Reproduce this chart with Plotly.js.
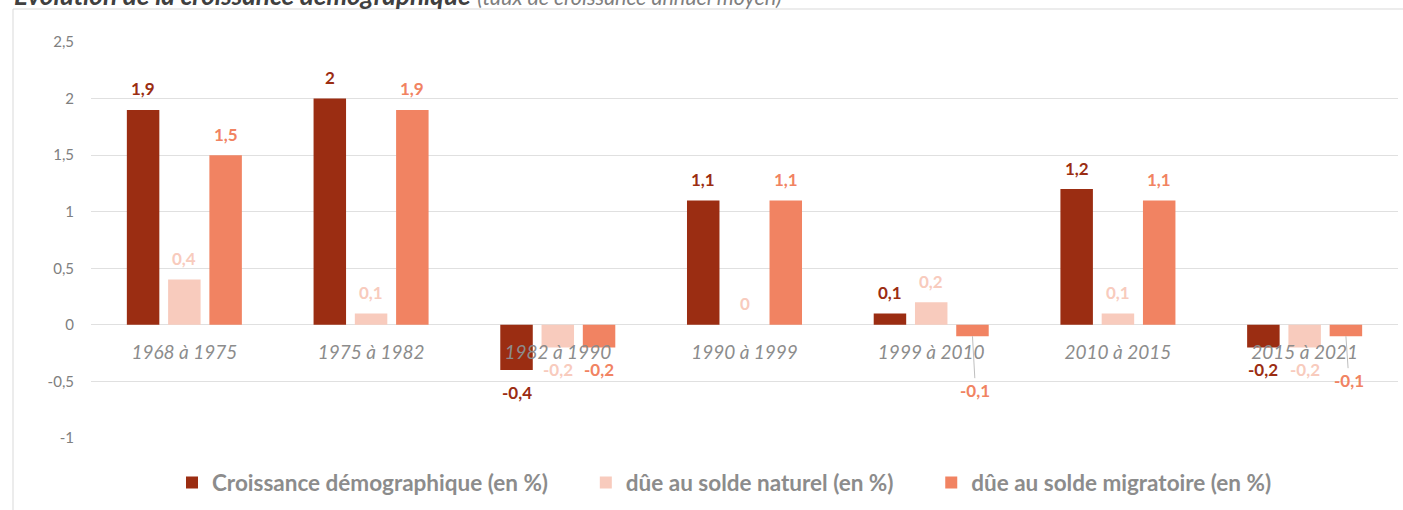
<!DOCTYPE html>
<html>
<head>
<meta charset="utf-8">
<script src="https://cdn.plot.ly/plotly-3.0.1.min.js"></script>
<style>html,body{margin:0;padding:0;background:#fff;overflow:hidden;}#chart{width:1403px;height:510px;}</style>
</head>
<body>
<div id="chart"></div>
<script>
// ---- data ----
const categories = ['1968 à 1975','1975 à 1982','1982 à 1990','1990 à 1999','1999 à 2010','2010 à 2015','2015 à 2021'];
const croissance = [1.9, 2, -0.4, 1.1, 0.1, 1.2, -0.2];
const soldeNaturel = [0.4, 0.1, -0.2, 0, 0.2, 0.1, -0.2];
const soldeMigratoire = [1.5, 1.9, -0.2, 1.1, -0.1, 1.1, -0.1];
const seriesNames = ['Croissance démographique (en %)', 'dûe au solde naturel (en %)', 'dûe au solde migratoire (en %)'];
const yTickVals = [-1, -0.5, 0, 0.5, 1, 1.5, 2, 2.5];
const yTickText = ['-1', '-0,5', '0', '0,5', '1', '1,5', '2', '2,5'];

// ---- style ----
const colors = ['#9B2D12', '#F8CBBD', '#F18362'];
const labelColors = ['#9B2D12', '#F8CBBD', '#F18362'];
const barWidth = 0.174;
const barCenters = [-0.221, 0, 0.221];
const leaderOffsets = { '2-4': {ax: 3, ay: 54}, '2-6': {ax: 3, ay: 44} };
const legendPad = [6, 6, 0];
const FONT = 'Lato, "Open Sans", sans-serif';

const seriesValues = [croissance, soldeNaturel, soldeMigratoire];
const xIdx = categories.map((c, i) => i);

const traces = seriesValues.map((vals, s) => ({
  type: 'bar',
  name: seriesNames[s] + '\u00A0'.repeat(legendPad[s]),
  x: xIdx,
  y: vals,
  width: barWidth,
  offset: barCenters[s] - barWidth / 2,
  marker: { color: colors[s] },
  hoverinfo: 'skip'
}));

const fmt = v => String(v).replace('.', ',');
const annotations = [];
seriesValues.forEach((vals, s) => {
  vals.forEach((v, i) => {
    const key = s + '-' + i;
    const base = {
      x: i + barCenters[s], y: v, xref: 'x', yref: 'y',
      text: fmt(v),
      font: { family: FONT, size: 17, color: labelColors[s], weight: 'bold' }
    };
    if (leaderOffsets[key]) {
      Object.assign(base, {
        showarrow: true, arrowhead: 0, arrowwidth: 1, arrowcolor: '#bfbfbf',
        ax: leaderOffsets[key].ax, ay: leaderOffsets[key].ay, standoff: 0
      });
    } else {
      Object.assign(base, { showarrow: false, yshift: v >= 0 ? 21 : -22 });
    }
    annotations.push(base);
  });
});

const layout = {
  width: 1403, height: 510,
  margin: { l: 91, r: 5, t: 42, b: 72, pad: 0 },
  paper_bgcolor: '#fff', plot_bgcolor: '#fff',
  separators: ', ',
  font: { family: FONT },
  title: {
    text: '<b><i>Evolution de la croissance démographique</i></b> <i><span style="color:#7f7f7f;font-size:21.5px">(taux de croissance annuel moyen)</span></i>',
    font: { family: FONT, size: 26, color: '#404040' },
    xref: 'container', yref: 'container', x: 14 / 1403, xanchor: 'left',
    y: 1 - 5 / 510, yanchor: 'bottom', pad: { t: 0, b: 0, l: 0, r: 0 }
  },
  xaxis: {
    type: 'linear', range: [-0.5, categories.length - 0.5],
    tickvals: xIdx, ticktext: categories,
    anchor: 'free', position: 1 / 3.5,
    showgrid: false, zeroline: false, showline: false, ticks: '',
    ticklabelstandoff: 14,
    tickfont: { family: FONT, size: 19, color: '#8c8c8c', style: 'italic' },
    fixedrange: true
  },
  yaxis: {
    range: [-1, 2.5], tickvals: yTickVals, ticktext: yTickText,
    showgrid: true, gridcolor: '#e0e0e0', gridwidth: 1,
    zeroline: true, zerolinecolor: '#e0e0e0', zerolinewidth: 1,
    showline: false, ticks: '', ticklabelstandoff: 16,
    tickfont: { family: FONT, size: 15, color: '#808080' },
    fixedrange: true
  },
  bargap: 0.38,
  showlegend: true,
  legend: {
    orientation: 'h', xref: 'paper', yref: 'paper',
    x: 0.4847, xanchor: 'center', y: -0.1136, yanchor: 'middle',
    font: { family: FONT, size: 22.5, color: '#8c8c8c', weight: 'bold' },
    itemclick: false, itemdoubleclick: false, traceorder: 'normal'
  },
  shapes: [
    { type: 'line', xref: 'paper', yref: 'paper',
      x0: (13 - 91) / 1307, x1: 1.2, y0: 1 + (42 - 9) / 396, y1: 1 + (42 - 9) / 396,
      line: { color: '#d9d9d9', width: 1 }, layer: 'below' },
    { type: 'line', xref: 'paper', yref: 'paper',
      x0: (13 - 91) / 1307, x1: (13 - 91) / 1307, y0: -0.3, y1: 1 + (42 - 9) / 396,
      line: { color: '#d9d9d9', width: 1 }, layer: 'below' }
  ],
  annotations: annotations
};

Plotly.newPlot('chart', traces, layout, { displayModeBar: false, staticPlot: true });
</script>
</body>
</html>
